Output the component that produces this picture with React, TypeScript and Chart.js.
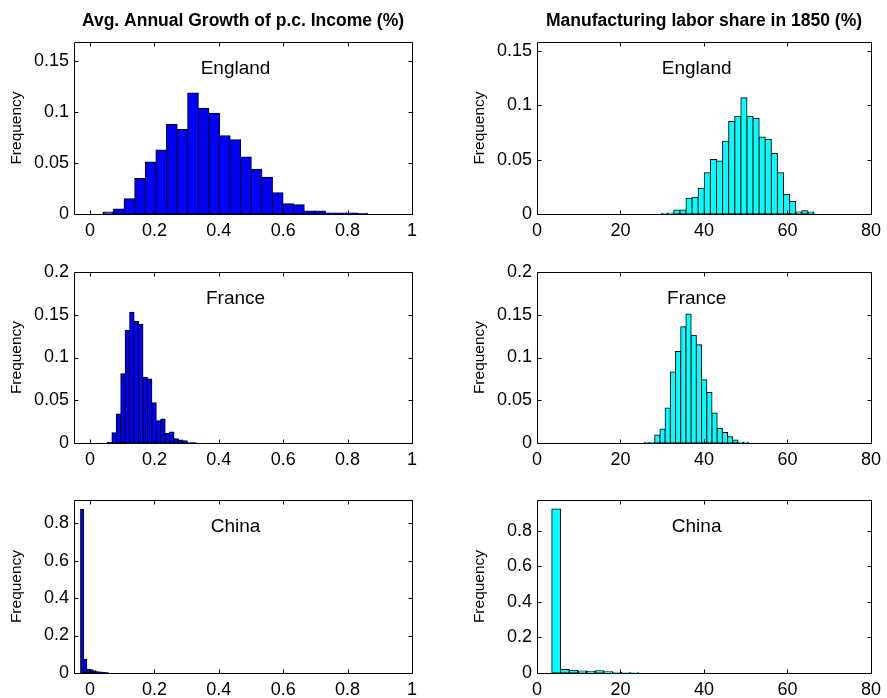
import React, { useEffect, useRef } from 'react';
import { Chart, registerables } from 'chart.js';

Chart.register(...registerables);

const FONT = "'Liberation Sans', Arial, Helvetica, sans-serif";

// ---- Column titles ----
const growthTitle = 'Avg. Annual Growth of p.c. Income (%)';
const laborTitle = 'Manufacturing labor share in 1850 (%)';

// ---- Tick labels ----
const growthXTicks = [0, 0.2, 0.4, 0.6, 0.8, 1];
const laborXTicks = [0, 20, 40, 60, 80];
const yTicksRow1 = [0, 0.05, 0.1, 0.15];
const yTicksRow2 = [0, 0.05, 0.1, 0.15, 0.2];
const yTicksRow3 = [0, 0.2, 0.4, 0.6, 0.8];

// ---- England: growth of p.c. income ----
const englandGrowthBins = [0.0565, 0.0894, 0.1223, 0.1552, 0.1881, 0.2210, 0.2539, 0.2868, 0.3197, 0.3526, 0.3855, 0.4184, 0.4513, 0.4842, 0.5171, 0.5500, 0.5829, 0.6158, 0.6487, 0.6816, 0.7145, 0.7474, 0.7803, 0.8132, 0.8461];
const englandGrowthFreq = [0.002, 0.005, 0.015, 0.035, 0.051, 0.063, 0.088, 0.083, 0.119, 0.104, 0.099, 0.077, 0.073, 0.056, 0.044, 0.036, 0.021, 0.010, 0.009, 0.003, 0.003, 0.001, 0.001, 0.001, 0.0005];

// ---- France: growth of p.c. income ----
const franceGrowthBins = [0.0609, 0.0747, 0.0884, 0.1022, 0.1160, 0.1298, 0.1435, 0.1573, 0.1711, 0.1849, 0.1986, 0.2124, 0.2262, 0.2400, 0.2537, 0.2675, 0.2813, 0.2951, 0.3088, 0.3226];
const franceGrowthFreq = [0.0008, 0.012, 0.034, 0.081, 0.132, 0.153, 0.142, 0.139, 0.077, 0.075, 0.047, 0.026, 0.028, 0.011, 0.013, 0.005, 0.0035, 0.0027, 0.0004, 0.0004];

// ---- China: growth of p.c. income ----
const chinaGrowthBins = [-0.0247, -0.0151, -0.0055, 0.0041, 0.0137, 0.0233, 0.0329, 0.0425, 0.0521];
const chinaGrowthFreq = [0.874, 0.073, 0.019, 0.018, 0.012, 0.007, 0.005, 0.003, 0.002];

// ---- England: manufacturing labor share ----
const englandLaborBins = [30.58, 32.04, 33.50, 34.96, 36.42, 37.88, 39.34, 40.80, 42.26, 43.72, 45.18, 46.64, 48.10, 49.56, 51.02, 52.48, 53.94, 55.40, 56.86, 58.32, 59.78, 61.24, 62.70, 64.16, 65.62];
const englandLaborFreq = [0.0006, 0.001, 0.0036, 0.0036, 0.0145, 0.0154, 0.0236, 0.0378, 0.050, 0.0487, 0.0668, 0.085, 0.0898, 0.1067, 0.0898, 0.088, 0.0708, 0.0686, 0.0556, 0.0378, 0.0178, 0.0115, 0.0018, 0.003, 0.0018];

// ---- France: manufacturing labor share ----
const franceLaborBins = [26.32, 27.57, 28.82, 30.07, 31.31, 32.56, 33.81, 35.05, 36.30, 37.55, 38.79, 40.04, 41.29, 42.53, 43.78, 45.03, 46.27, 47.52, 48.77, 50.02];
const franceLaborFreq = [0.0005, 0.0005, 0.0093, 0.0163, 0.041, 0.083, 0.107, 0.136, 0.151, 0.126, 0.115, 0.074, 0.059, 0.035, 0.017, 0.0124, 0.0074, 0.0035, 0.0008, 0.0008];

// ---- China: manufacturing labor share ----
const chinaLaborBins = [4.59, 6.67, 8.75, 10.83, 12.91, 14.99, 17.07, 19.15, 21.23, 23.31];
const chinaLaborFreq = [0.921, 0.020, 0.015, 0.011, 0.009, 0.013, 0.007, 0.004, 0.002, 0.002];

type Panel = {
  country: string;
  title?: string;
  bins: number[];
  freq: number[];
  color: string;
  xMin: number;
  xMax: number;
  xTicks: number[];
  yMax: number;
  yTicks: number[];
  col: number;
  row: number;
};

const BLUE = '#0000ff';
const CYAN = '#00ffff';

const panels: Panel[] = [
  { country: 'England', title: growthTitle, bins: englandGrowthBins, freq: englandGrowthFreq, color: BLUE, xMin: -0.05, xMax: 1, xTicks: growthXTicks, yMax: 0.169, yTicks: yTicksRow1, col: 0, row: 0 },
  { country: 'England', title: laborTitle, bins: englandLaborBins, freq: englandLaborFreq, color: CYAN, xMin: 0, xMax: 80, xTicks: laborXTicks, yMax: 0.158, yTicks: yTicksRow1, col: 1, row: 0 },
  { country: 'France', bins: franceGrowthBins, freq: franceGrowthFreq, color: BLUE, xMin: -0.05, xMax: 1, xTicks: growthXTicks, yMax: 0.2, yTicks: yTicksRow2, col: 0, row: 1 },
  { country: 'France', bins: franceLaborBins, freq: franceLaborFreq, color: CYAN, xMin: 0, xMax: 80, xTicks: laborXTicks, yMax: 0.2, yTicks: yTicksRow2, col: 1, row: 1 },
  { country: 'China', bins: chinaGrowthBins, freq: chinaGrowthFreq, color: BLUE, xMin: -0.05, xMax: 1, xTicks: growthXTicks, yMax: 0.923, yTicks: yTicksRow3, col: 0, row: 2 },
  { country: 'China', bins: chinaLaborBins, freq: chinaLaborFreq, color: CYAN, xMin: 0, xMax: 80, xTicks: laborXTicks, yMax: 0.972, yTicks: yTicksRow3, col: 1, row: 2 },
];

// layout (pixels)
const TOP_PAD = 42;
const X_AXIS_H = 40;
const Y_AXIS_W = 74;
const COLS = [
  { left: 0, width: 430, padRight: 18 },
  { left: 463, width: 424, padRight: 14 },
];
const ROWS = [
  { plotTop: 42, plotH: 172 },
  { plotTop: 272, plotH: 171 },
  { plotTop: 500, plotH: 173 },
];

const fmt = (v: number) => String(parseFloat(Number(v).toFixed(4)));

const matlabAxes = {
  id: 'matlabAxes',
  afterDatasetsDraw(chart: any, _args: any, opts: any) {
    const { ctx, chartArea: a } = chart;
    const xs = chart.scales.x;
    const ys = chart.scales.y;
    const L = Math.round(a.left) + 0.5;
    const R = Math.round(a.right) + 0.5;
    const T = Math.round(a.top) + 0.5;
    const B = Math.round(a.bottom) + 0.5;
    const TL = 4;
    ctx.save();
    ctx.strokeStyle = '#000';
    ctx.lineWidth = 1;
    ctx.beginPath();
    ctx.rect(L, T, R - L, B - T);
    for (const t of xs.ticks) {
      const px = Math.round(xs.getPixelForValue(t.value)) + 0.5;
      ctx.moveTo(px, B);
      ctx.lineTo(px, B - TL);
      ctx.moveTo(px, T);
      ctx.lineTo(px, T + TL);
    }
    for (const t of ys.ticks) {
      const py = Math.round(ys.getPixelForValue(t.value)) + 0.5;
      ctx.moveTo(L, py);
      ctx.lineTo(L + TL, py);
      ctx.moveTo(R, py);
      ctx.lineTo(R - TL, py);
    }
    ctx.stroke();

    ctx.fillStyle = '#000';
    // country label
    ctx.font = `19px ${FONT}`;
    ctx.textAlign = 'center';
    ctx.textBaseline = 'alphabetic';
    ctx.fillText(opts.country, a.left + 0.478 * (a.right - a.left), a.top + 31.5);

    // y label
    ctx.save();
    ctx.translate(a.left - 53, (a.top + a.bottom) / 2);
    ctx.rotate(-Math.PI / 2);
    ctx.font = `15.5px ${FONT}`;
    ctx.textAlign = 'center';
    ctx.textBaseline = 'alphabetic';
    ctx.fillText('Frequency', 0, 0);
    ctx.restore();

    // column title
    if (opts.title) {
      ctx.font = `bold 17.5px ${FONT}`;
      ctx.textAlign = 'center';
      ctx.textBaseline = 'alphabetic';
      ctx.fillText(opts.title, (a.left + a.right) / 2, 26);
    }
    ctx.restore();
  },
};

function HistPanel({ p }: { p: Panel }) {
  const ref = useRef<HTMLCanvasElement | null>(null);
  const col = COLS[p.col];
  const row = ROWS[p.row];
  const canvasTop = row.plotTop - TOP_PAD;
  const canvasH = TOP_PAD + row.plotH + X_AXIS_H;

  useEffect(() => {
    if (!ref.current) return;
    const tickFont = { family: FONT, size: 18 };
    const chart = new Chart(ref.current, {
      type: 'bar',
      data: {
        datasets: [
          {
            data: p.bins.map((b, i) => ({ x: b, y: p.freq[i] })),
            backgroundColor: p.color,
            borderColor: '#000',
            borderWidth: 1,
            borderSkipped: false,
            inflateAmount: 0.5,
            barPercentage: 1,
            categoryPercentage: 1,
            grouped: false,
          } as any,
        ],
      },
      options: {
        animation: false,
        responsive: false,
        maintainAspectRatio: false,
        devicePixelRatio: 1,
        layout: { padding: { top: TOP_PAD, left: 0, right: col.padRight, bottom: 0 } },
        plugins: {
          legend: { display: false },
          tooltip: { enabled: false },
          title: { display: false },
          matlabAxes: { country: p.country, title: p.title },
        } as any,
        scales: {
          x: {
            type: 'linear',
            offset: false,
            min: p.xMin,
            max: p.xMax,
            grid: { display: false, drawTicks: false, offset: false },
            border: { display: false },
            ticks: {
              font: tickFont,
              color: '#000',
              padding: 6,
              maxRotation: 0,
              autoSkip: false,
              callback: (v: any) => fmt(v),
            },
            afterBuildTicks: (s: any) => {
              s.ticks = p.xTicks.map((v) => ({ value: v }));
            },
            afterFit: (s: any) => {
              s.height = X_AXIS_H;
            },
          },
          y: {
            type: 'linear',
            min: 0,
            max: p.yMax,
            grid: { display: false, drawTicks: false },
            border: { display: false },
            ticks: {
              font: tickFont,
              color: '#000',
              padding: 5,
              autoSkip: false,
              callback: (v: any) => fmt(v),
            },
            afterBuildTicks: (s: any) => {
              s.ticks = p.yTicks.map((v) => ({ value: v }));
            },
            afterFit: (s: any) => {
              s.width = Y_AXIS_W;
            },
          },
        } as any,
      },
      plugins: [matlabAxes as any],
    });
    return () => chart.destroy();
  }, [p]);

  return (
    <canvas
      ref={ref}
      width={col.width}
      height={canvasH}
      style={{ position: 'absolute', left: col.left, top: canvasTop, width: col.width, height: canvasH }}
    />
  );
}

export default function App() {
  return (
    <div
      style={{
        position: 'absolute',
        left: 0,
        top: 0,
        width: 887,
        height: 698,
        overflow: 'hidden',
        background: '#fff',
      }}
    >
      {panels.map((p, i) => (
        <HistPanel key={i} p={p} />
      ))}
    </div>
  );
}
